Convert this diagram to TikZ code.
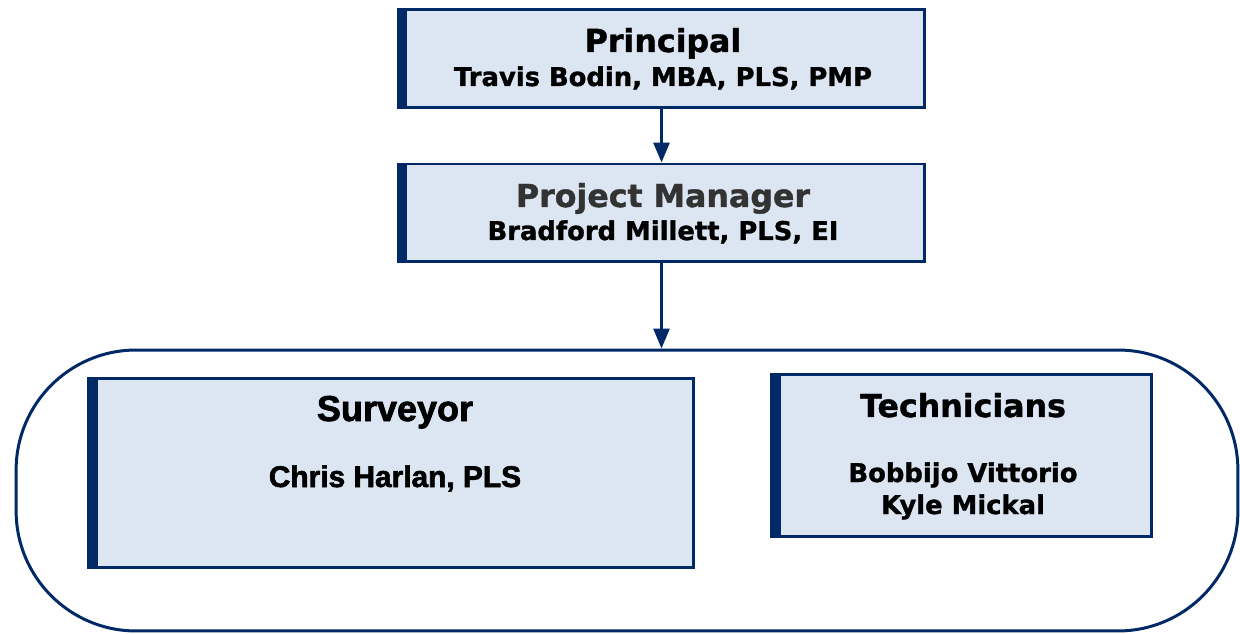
\documentclass[tikz,border=0pt]{standalone}
\usepackage{fontspec}
\setmainfont{DejaVu Sans}[BoldFeatures={FakeBold=1.2}]
\newfontfamily\narrowfont{Liberation Sans}[BoldFeatures={FakeBold=2}]
\usetikzlibrary{arrows.meta}
\definecolor{navy}{RGB}{0,41,102}
\definecolor{boxblue}{RGB}{220,230,242}
\definecolor{pmgray}{RGB}{51,51,51}

\begin{document}
\begin{tikzpicture}[x=0.02cm,y=-0.02cm,
  orgbox/.style={draw=navy, line width=1.7pt, fill=boxblue, inner sep=0pt,
    path picture={\fill[navy] (path picture bounding box.north west)
      rectangle ([xshift=0.18cm]path picture bounding box.south west);}},
  title/.style={anchor=base, font=\bfseries\fontsize{18}{20}\selectfont},
  names/.style={anchor=base, font=\bfseries\fontsize{14.7}{16}\selectfont},
  link/.style={navy, line width=1.6pt, -{Triangle[length=0.4cm,width=0.32cm]}}]
  \useasboundingbox (0,0) rectangle (1240,634);

  % boxes
  \node[draw=navy, line width=1.7pt, rounded corners=2.4cm,
    minimum width=24.44cm, minimum height=5.62cm] (team) at (627,490.5) {};
  \node[orgbox, minimum width=10.54cm, minimum height=1.96cm] (principal) at (661.5,58.5) {};
  \node[orgbox, minimum width=10.54cm, minimum height=1.96cm] (pm) at (661.5,213) {};
  \node[orgbox, minimum width=12.1cm, minimum height=3.78cm] (surveyor) at (391,473) {};
  \node[orgbox, minimum width=7.6cm, minimum height=3.24cm] (tech) at (961.5,455.5) {};

  % texts
  \node[title] (principal-title) at (663,52) {Principal};
  \node[names] (principal-name) at (663,86) {Travis Bodin, MBA, PLS, PMP};
  \node[title, text=pmgray] (pm-title) at (663,207) {Project Manager};
  \node[names] (pm-name) at (663,240) {Bradford Millett, PLS, EI};
  \node[title, font=\narrowfont\bfseries\fontsize{20.5}{22}\selectfont] (surveyor-title) at (395,421) {Surveyor};
  \node[names, font=\narrowfont\bfseries\fontsize{17}{19}\selectfont] (surveyor-name) at (395,487) {Chris Harlan, PLS};
  \node[title] (tech-title) at (963,417) {Technicians};
  \node[names] (tech-name1) at (963,482) {Bobbijo Vittorio};
  \node[names] (tech-name2) at (963,514) {Kyle Mickal};

  % arrows
  \draw[link] (principal) -- (pm);
  \draw[link] (pm.south) -- (pm.south |- team.north);
\end{tikzpicture}
\end{document}
